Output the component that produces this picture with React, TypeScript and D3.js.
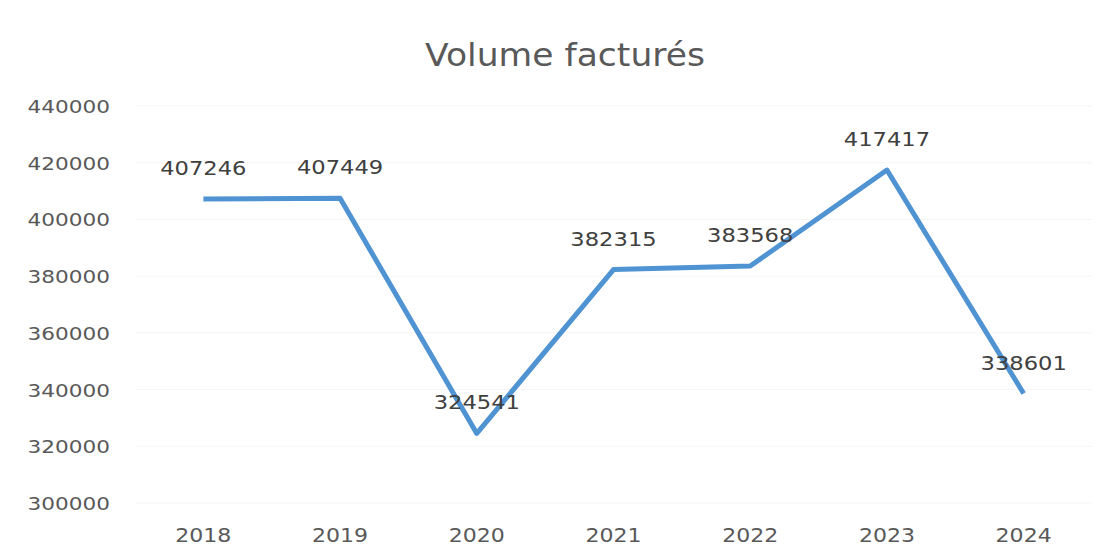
import * as d3 from "d3";

const years = ["2018", "2019", "2020", "2021", "2022", "2023", "2024"];
const volumes = [407246, 407449, 324541, 382315, 383568, 417417, 338601];
const yTicks = [300000, 320000, 340000, 360000, 380000, 400000, 420000, 440000];

const W = 1118;
const H = 558;
const FONT = "'DejaVu Sans', sans-serif";
const TEXT = "#595959";

type LabelProps = {
  x: number;
  y: number;
  size: number;
  sx: number;
  anchor: "start" | "middle" | "end";
  fill?: string;
  children: React.ReactNode;
};

// the scan is a bit stretched sideways, so glyphs get a horizontal scale
const Label = ({ x, y, size, sx, anchor, fill = TEXT, children }: LabelProps) => (
  <text
    transform={`translate(${x},${y}) scale(${sx},1)`}
    textAnchor={anchor}
    fontFamily={FONT}
    fontSize={size}
    fill={fill}
  >
    {children}
  </text>
);

const App = () => {
  const x = d3.scaleBand().domain(years).range([135, 1092]).padding(0);
  const y = d3.scaleLinear().domain([300000, 440000]).range([503, 106]);
  const cx = (yr: string) => (x(yr) ?? 0) + x.bandwidth() / 2;

  const line = d3
    .line<number>()
    .x((_, i) => cx(years[i]))
    .y((d) => y(d));

  return (
    <svg
      width={W}
      height={H}
      viewBox={`0 0 ${W} ${H}`}
      style={{ position: "absolute", left: 0, top: 0, background: "#fff" }}
    >
      <rect width={W} height={H} fill="#fff" />
      <Label x={565} y={66} size={32} sx={1.08} anchor="middle">
        Volume facturés
      </Label>

      {yTicks.map((t) => (
        <g key={t}>
          <line x1={135} x2={1092} y1={y(t)} y2={y(t)} stroke="#f5f5f5" strokeWidth={1} />
          <Label x={110} y={y(t) + 7} size={18} sx={1.2} anchor="end">
            {t}
          </Label>
        </g>
      ))}

      {years.map((yr) => (
        <Label key={yr} x={cx(yr)} y={542} size={19} sx={1.16} anchor="middle">
          {yr}
        </Label>
      ))}

      <path
        d={line(volumes) ?? ""}
        fill="none"
        stroke="#4f93d2"
        strokeWidth={5}
        strokeLinejoin="round"
      />

      {volumes.map((v, i) => (
        <Label key={i} x={cx(years[i])} y={y(v) - 24} size={19} sx={1.19} anchor="middle" fill="#404040">
          {v}
        </Label>
      ))}
    </svg>
  );
};

export default App;
